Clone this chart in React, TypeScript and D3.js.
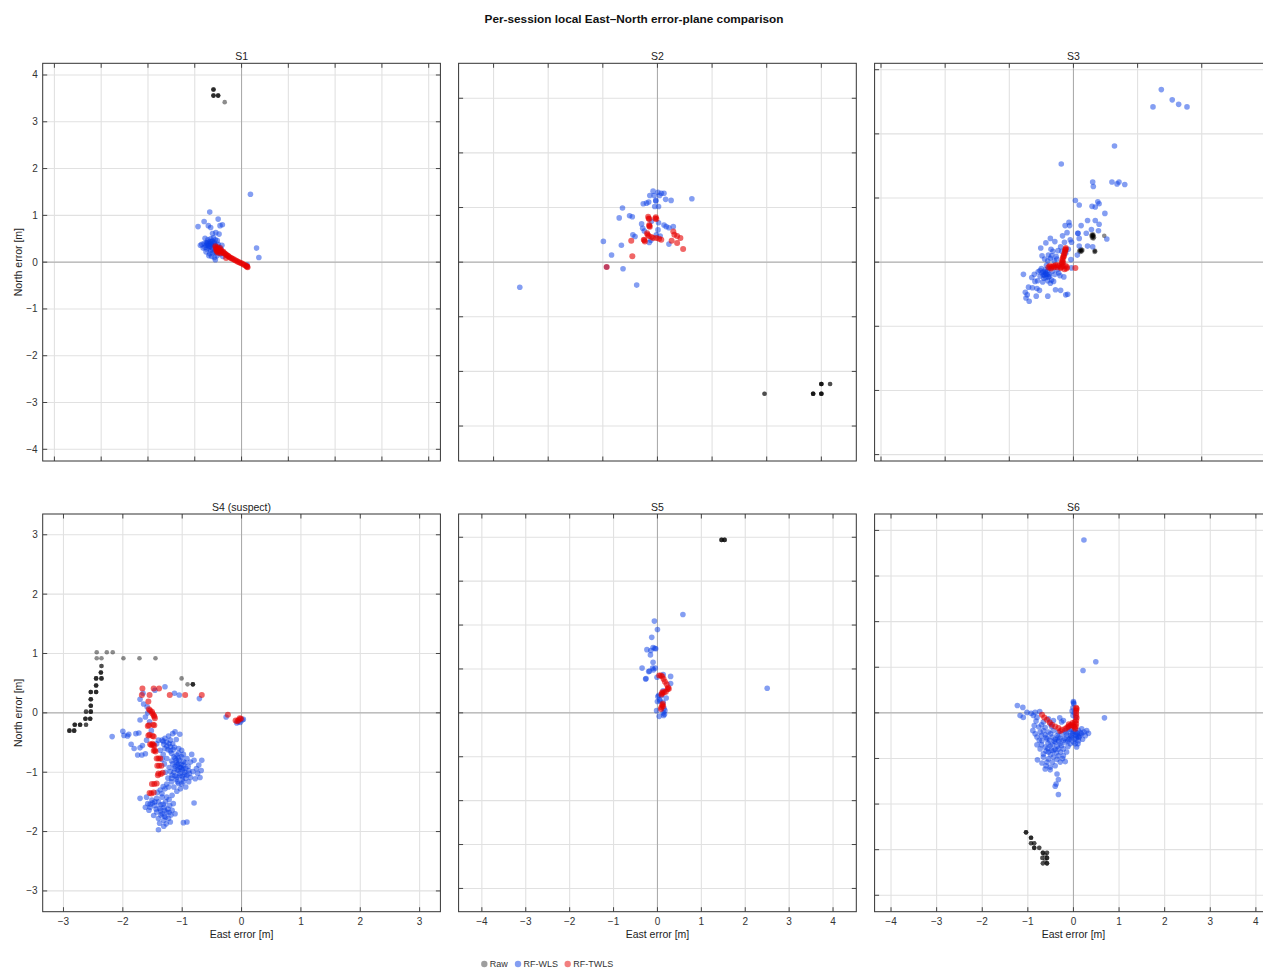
import React from 'react';
import * as d3 from 'd3';

type P = [number, number];

// ---------- data (East, North errors in metres) ----------
const sessionNames = ['S1', 'S2', 'S3', 'S4 (suspect)', 'S5', 'S6'];
const axisLimits = [4.25, 3.64, 3.1, 3.35, 4.53, 4.36];
const seriesNames = ['Raw', 'RF-WLS', 'RF-TWLS'];

const s1Raw: P[] = [
  [-0.60, 3.69], [-0.60, 3.69], [-0.60, 3.69], [-0.60, 3.56], [-0.60, 3.56], [-0.60, 3.56],
  [-0.50, 3.56], [-0.50, 3.56], [-0.50, 3.56], [-0.36, 3.42],
];
const s1Wls: P[] = [
  [0.19, 1.45], [-0.68, 1.07], [-0.93, 0.76], [-0.80, 0.87], [-0.71, 0.78], [-0.66, 0.74], [-0.50, 0.92],
  [-0.41, 0.80], [-0.46, 0.78], [-0.55, 0.63], [-0.48, 0.60], [-0.62, 0.61], [0.32, 0.30], [0.37, 0.10],
  [-0.78, 0.51], [-0.56, 0.05], [-0.85, 0.38], [-0.80, 0.40], [-0.75, 0.42], [-0.72, 0.36], [-0.68, 0.44],
  [-0.65, 0.38], [-0.62, 0.45], [-0.60, 0.35], [-0.58, 0.42], [-0.55, 0.30], [-0.52, 0.46], [-0.50, 0.38],
  [-0.48, 0.32], [-0.78, 0.32], [-0.74, 0.28], [-0.70, 0.30], [-0.66, 0.25], [-0.62, 0.28], [-0.58, 0.22],
  [-0.54, 0.20], [-0.50, 0.25], [-0.46, 0.18], [-0.68, 0.18], [-0.64, 0.12], [-0.72, 0.48], [-0.66, 0.50],
  [-0.60, 0.52], [-0.56, 0.48], [-0.82, 0.30], [-0.76, 0.22], [-0.70, 0.14], [-0.58, 0.10], [-0.52, 0.14],
  [-0.44, 0.28], [-0.42, 0.36], [-0.88, 0.36], [-0.62, 0.20], [-0.70, 0.38], [-0.64, 0.32], [-0.56, 0.36],
  [-0.74, 0.40], [-0.68, 0.34], [-0.60, 0.40], [0.12, -0.06], [-0.40, 0.12], [-0.72, 0.42], [-0.66, 0.40],
  [-0.70, 0.34], [-0.64, 0.44], [-0.76, 0.36],
];
const s1Twls: P[] = [
  [-0.56, 0.34], [-0.55, 0.30], [-0.53, 0.27], [-0.52, 0.32], [-0.50, 0.28], [-0.49, 0.24], [-0.47, 0.27],
  [-0.45, 0.23], [-0.43, 0.25], [-0.41, 0.21], [-0.39, 0.22], [-0.37, 0.19], [-0.35, 0.18], [-0.33, 0.16],
  [-0.31, 0.15], [-0.29, 0.13], [-0.27, 0.12], [-0.25, 0.10], [-0.22, 0.09], [-0.20, 0.07], [-0.17, 0.06],
  [-0.14, 0.04], [-0.11, 0.03], [-0.08, 0.01], [-0.05, 0.00], [-0.02, -0.02], [0.01, -0.03], [0.04, -0.05],
  [0.07, -0.06], [0.10, -0.08], [0.12, -0.10], [0.13, -0.11], [0.11, -0.09], [-0.33, 0.09], [-0.54, 0.25],
  [-0.50, 0.20], [-0.46, 0.30], [-0.52, 0.22], [-0.44, 0.19],
];

const s2Raw: P[] = [
  [1.96, -2.41], [1.96, -2.41], [2.85, -2.41], [2.85, -2.41], [2.85, -2.41], [2.85, -2.41],
  [3.00, -2.41], [3.00, -2.41], [3.00, -2.41], [3.00, -2.41], [3.00, -2.23], [3.00, -2.23],
  [3.00, -2.23], [3.00, -2.23], [3.16, -2.23], [3.16, -2.23],
];
const s2Wls: P[] = [
  [-0.08, 1.30], [0.01, 1.28], [0.07, 1.26], [0.12, 1.26], [-0.14, 1.22], [-0.06, 1.22], [0.04, 1.22],
  [-0.03, 1.12], [-0.03, 1.13], [0.15, 1.15], [0.25, 1.13], [0.63, 1.16], [-0.26, 1.07], [-0.20, 1.08],
  [-0.16, 1.10], [-0.05, 1.02], [0.02, 1.02], [-0.64, 0.99], [-0.70, 0.81], [-0.51, 0.85], [-0.46, 0.83],
  [-0.11, 0.75], [0.02, 0.72], [-0.29, 0.70], [-0.27, 0.62], [-0.24, 0.57], [0.12, 0.68], [0.16, 0.65],
  [0.21, 0.63], [0.29, 0.65], [0.01, 0.59], [-0.02, 0.50], [-0.45, 0.50], [-0.41, 0.47], [-0.15, 0.36],
  [0.21, 0.33], [-0.99, 0.38], [-0.66, 0.31], [-0.84, 0.13], [-0.63, -0.12], [-0.38, -0.42],
  [-2.52, -0.46], [-0.93, -0.09], [-0.12, 0.40], [0.05, 0.48],
];
const s2Twls: P[] = [
  [-0.17, 0.83], [-0.15, 0.79], [-0.03, 0.82], [-0.02, 0.79], [-0.15, 0.68], [-0.14, 0.65], [-0.19, 0.53],
  [-0.16, 0.48], [-0.11, 0.46], [-0.08, 0.44], [-0.25, 0.41], [-0.23, 0.38], [-0.02, 0.44], [0.03, 0.43],
  [0.07, 0.41], [0.29, 0.56], [0.31, 0.50], [0.36, 0.48], [0.42, 0.44], [0.26, 0.39], [0.36, 0.35],
  [0.47, 0.24], [-0.48, 0.39], [-0.46, 0.11], [-0.93, -0.09], [-0.16, 0.80], [-0.04, 0.80], [-0.15, 0.66],
  [-0.18, 0.50], [-0.24, 0.40],
];

const s3Raw: P[] = [
  [0.30, 0.40], [0.31, 0.43], [0.29, 0.38], [0.31, 0.41], [0.30, 0.42], [0.28, 0.41], [0.32, 0.39],
  [0.29, 0.43], [0.31, 0.37], [0.12, 0.18], [0.10, 0.19], [0.13, 0.17], [0.11, 0.16], [0.14, 0.19],
  [0.12, 0.20], [0.09, 0.17], [0.33, 0.18], [0.34, 0.17], [0.33, 0.16], [0.48, 0.41],
];
const s3Wls: P[] = [
  [1.37, 2.69], [1.54, 2.53], [1.64, 2.46], [1.77, 2.42], [1.24, 2.42], [0.64, 1.81], [-0.19, 1.53],
  [0.30, 1.25], [0.31, 1.18], [0.60, 1.25], [0.68, 1.22], [0.71, 1.25], [0.80, 1.21], [0.03, 0.96],
  [0.09, 0.89], [0.29, 0.87], [0.34, 0.86], [0.38, 0.94], [0.40, 0.91], [0.49, 0.76], [-0.07, 0.62],
  [-0.13, 0.57], [-0.06, 0.57], [0.12, 0.57], [0.22, 0.65], [0.34, 0.65], [0.40, 0.59], [0.39, 0.49],
  [0.28, 0.51], [-0.10, 0.46], [-0.17, 0.41], [-0.36, 0.37], [-0.29, 0.32], [-0.43, 0.30], [-0.51, 0.22],
  [-0.14, 0.31], [-0.05, 0.35], [-0.03, 0.31], [0.07, 0.45], [0.07, 0.45], [0.09, 0.37], [0.20, 0.45],
  [0.52, 0.36], [0.09, 0.25], [0.22, 0.25], [0.30, 0.24], [-0.24, 0.18], [-0.18, 0.17], [-0.32, 0.17],
  [-0.49, 0.10], [-0.39, 0.11], [-0.34, 0.10], [-0.27, 0.09], [0.06, 0.11], [-0.04, 0.04], [-0.03, -0.09],
  [-0.78, -0.19], [-0.61, -0.19], [-0.52, -0.13], [-0.49, -0.17], [-0.44, -0.16], [-0.41, -0.19],
  [-0.37, -0.22], [-0.34, -0.28], [-0.46, -0.25], [-0.56, -0.29], [-0.48, -0.31], [-0.23, -0.17],
  [-0.15, -0.23], [-0.21, -0.21], [-0.70, -0.39], [-0.64, -0.40], [-0.57, -0.41], [-0.53, -0.44],
  [-0.75, -0.47], [-0.72, -0.51], [-0.74, -0.56], [-0.69, -0.61], [-0.58, -0.53], [-0.40, -0.53],
  [-0.28, -0.43], [-0.20, -0.44], [-0.12, -0.51], [-0.09, -0.50], [-0.45, 0.05], [-0.40, 0.02],
  [-0.36, 0.06], [-0.30, 0.02], [-0.26, 0.05], [-0.42, -0.05], [-0.38, -0.10], [-0.33, -0.14],
  [-0.29, -0.19], [-0.25, -0.12], [-0.50, -0.10], [-0.55, -0.15], [-0.47, -0.20], [-0.43, -0.24],
  [-0.40, -0.29], [-0.36, -0.33], [-0.31, -0.30], [-0.52, -0.22], [-0.44, -0.12], [-0.38, -0.19],
  [-0.60, -0.30], [-0.65, -0.24], [-0.35, 0.20], [-0.20, 0.24], [-0.08, 0.20], [-0.12, 0.14],
  [-0.45, -0.20], [-0.41, -0.14], [-0.47, -0.15], [-0.39, -0.23], [-0.43, -0.18],
];
const s3Twls: P[] = [
  [-0.12, 0.22], [-0.12, 0.20], [-0.13, 0.17], [-0.14, 0.14], [-0.15, 0.11], [-0.16, 0.08], [-0.17, 0.05],
  [-0.17, 0.02], [-0.18, 0.00], [-0.18, -0.03], [-0.17, -0.06], [-0.19, -0.08], [-0.22, -0.06],
  [-0.25, -0.05], [-0.28, -0.05], [-0.31, -0.06], [-0.34, -0.07], [-0.37, -0.06], [-0.39, -0.08],
  [-0.35, -0.10], [-0.30, -0.08], [-0.12, -0.06], [-0.10, -0.08], [-0.11, -0.10], [-0.14, -0.11],
  [-0.20, -0.09], [-0.13, 0.19], [-0.15, 0.09], [-0.16, -0.01], [-0.26, -0.08], [0.03, -0.09],
];

const s4Raw: P[] = [
  [-2.44, 1.02], [-2.27, 1.02], [-2.17, 1.02], [-2.44, 0.92], [-2.36, 0.92], [-1.99, 0.92], [-1.72, 0.92],
  [-1.45, 0.92], [-1.01, 0.58], [-0.91, 0.48],
  [-0.82, 0.48], [-0.82, 0.48], [-0.82, 0.48], [-2.36, 0.79], [-2.36, 0.79], [-2.37, 0.68], [-2.37, 0.68],
  [-2.37, 0.68], [-2.45, 0.58], [-2.45, 0.58], [-2.45, 0.58], [-2.36, 0.58], [-2.36, 0.58], [-2.36, 0.58],
  [-2.45, 0.46], [-2.45, 0.46], [-2.45, 0.46], [-2.45, 0.35], [-2.45, 0.35], [-2.45, 0.35], [-2.54, 0.35],
  [-2.54, 0.35], [-2.54, 0.35], [-2.54, 0.23], [-2.54, 0.23], [-2.54, 0.23], [-2.54, 0.12], [-2.54, 0.12],
  [-2.54, 0.12], [-2.54, 0.02], [-2.54, 0.02], [-2.54, 0.02], [-2.62, 0.02], [-2.62, 0.02], [-2.55, -0.10],
  [-2.55, -0.10], [-2.55, -0.10], [-2.63, -0.10], [-2.63, -0.10], [-2.63, -0.10], [-2.62, -0.20],
  [-2.62, -0.20], [-2.72, -0.20], [-2.72, -0.20], [-2.72, -0.20], [-2.81, -0.20], [-2.81, -0.20],
  [-2.81, -0.20], [-2.82, -0.30], [-2.82, -0.30], [-2.82, -0.30], [-2.90, -0.30], [-2.90, -0.30],
  [-2.90, -0.30],
];
const s4Wls: P[] = [
  [-1.29, 0.44], [-1.13, 0.33], [-1.71, 0.23], [-1.66, 0.33], [-0.71, 0.24], [-0.26, -0.07], [-1.59, 0.10],
  [-1.62, -0.07], [-1.71, -0.12], [-1.55, -0.15], [-2.18, -0.40], [-2.00, -0.31], [-1.98, -0.38],
  [-1.92, -0.39], [-1.78, -0.35], [-1.73, -0.34], [-1.86, -0.53], [-1.81, -0.60], [-1.71, -0.59],
  [-1.67, -0.55], [-1.75, -0.71], [-1.68, -0.71], [-1.62, -0.69], [-1.12, -0.32], [-1.16, -0.35],
  [-1.23, -0.39], [-1.29, -0.43], [-1.34, -0.46], [-1.40, -0.46], [-1.43, -0.52], [-1.31, -0.53],
  [-1.26, -0.49], [-1.20, -0.46], [-1.37, -0.63], [-1.29, -0.60], [-1.20, -0.57], [-1.13, -0.58],
  [-1.06, -0.60], [-1.01, -0.63], [-1.18, -0.68], [-1.09, -0.71], [-1.01, -0.74], [-0.92, -0.77],
  [-1.26, -0.77], [-1.18, -0.81], [-1.10, -0.84], [-1.02, -0.87], [-0.95, -0.84], [-0.86, -0.83],
  [-0.80, -0.80], [-0.67, -0.80], [-0.72, -0.88], [-0.76, -0.94], [-0.68, -0.97], [-0.82, -0.99],
  [-0.89, -0.97], [-0.98, -0.94], [-1.06, -0.97], [-1.13, -0.94], [-1.20, -0.99], [-1.17, -1.05],
  [-1.09, -1.08], [-1.00, -1.07], [-0.92, -1.05], [-0.86, -1.09], [-0.78, -1.11], [-0.70, -1.09],
  [-0.89, -1.16], [-0.98, -1.16], [-1.06, -1.19], [-1.14, -1.25], [-1.23, -1.25], [-1.29, -1.28],
  [-1.37, -1.30], [-0.94, -1.25], [-1.03, -1.28], [-1.17, -1.39], [-1.26, -1.42], [-1.34, -1.42],
  [-1.43, -1.44], [-1.51, -1.47], [-1.58, -1.53], [-1.62, -1.59], [-1.71, -1.44], [-1.54, -1.59],
  [-1.46, -1.56], [-1.38, -1.61], [-1.30, -1.59], [-1.21, -1.56], [-1.15, -1.53], [-1.17, -1.64],
  [-1.26, -1.67], [-1.34, -1.70], [-1.43, -1.67], [-1.48, -1.73], [-1.40, -1.78], [-1.31, -1.81],
  [-1.23, -1.78], [-1.27, -1.87], [-1.31, -1.91], [-1.40, -1.97], [-1.20, -1.84], [-0.80, -1.52],
  [-0.92, -1.84], [-0.98, -1.85], [-1.12, -1.70], [-0.05, -0.15], [0.01, -0.12], [0.03, -0.11],
  [-0.08, -0.17], [-0.02, -0.16], [-1.65, 0.15], [-1.58, 0.00], [-1.52, -0.30], [-1.60, -0.46],
  [-1.90, -0.36], [-1.10, -0.45], [-1.04, -0.36], [-1.16, -0.52], [-1.24, -0.62], [-1.32, -0.70],
  [-1.12, -0.76], [-1.05, -0.80], [-0.98, -0.82], [-0.90, -0.90], [-1.04, -0.92], [-1.12, -0.90],
  [-0.96, -1.00], [-1.04, -1.02], [-1.10, -1.12], [-0.94, -1.10], [-1.01, -1.20], [-1.18, -1.16],
  [-1.24, -1.10], [-1.28, -1.00], [-1.30, -0.86], [-1.34, -0.78], [-1.06, -0.68], [-0.98, -0.70],
  [-1.15, -0.62], [-1.22, -0.92], [-1.08, -0.88], [-1.00, -0.96], [-0.88, -1.02], [-1.14, -1.00],
  [-1.36, -1.55], [-1.28, -1.50], [-1.22, -1.46], [-1.44, -1.62], [-1.36, -1.65], [-1.30, -1.74],
  [-1.38, -1.86], [-1.50, -1.52], [-1.56, -1.64], [-1.19, -1.72], [-1.34, -1.36], [-1.42, -1.34],
  [-1.60, -1.42], [-1.09, -1.32], [-0.84, -0.70], [-0.74, -1.02], [-1.46, 0.38], [-1.05, 0.30],
  [-1.10, -0.80], [-1.06, -0.86], [-1.02, -0.92], [-1.08, -0.96], [-1.04, -1.06], [-1.00, -1.12],
  [-1.12, -1.06], [-0.98, -0.88], [-0.94, -0.94], [-1.16, -0.86], [-1.14, -0.74], [-1.20, -0.64],
  [-1.26, -0.56], [-1.32, -0.48], [-1.22, -0.52], [-1.06, -0.76], [-0.96, -1.04], [-1.08, -1.16],
  [-1.18, -1.10], [-1.26, -1.20], [-1.32, -1.24], [-1.30, -1.64], [-1.24, -1.62], [-1.32, -1.54],
  [-1.40, -1.50], [-1.36, -1.72], [-1.28, -1.76], [-1.22, -1.68], [-1.46, -1.50], [-1.54, -1.54],
];
const s4Twls: P[] = [
  [-1.67, 0.41], [-1.68, 0.30], [-1.55, 0.30], [-1.48, 0.41], [-1.39, 0.41], [-1.21, 0.30], [-0.95, 0.30],
  [-0.67, 0.30], [-0.23, -0.03], [-0.10, -0.13], [-0.05, -0.12], [-0.01, -0.10], [-0.03, -0.09],
  [-0.07, -0.14], [-1.57, 0.19], [-1.56, 0.06], [-1.54, 0.04], [-1.51, 0.02], [-1.50, -0.01],
  [-1.48, -0.04], [-1.46, -0.09], [-1.47, -0.06], [-1.58, -0.22], [-1.56, -0.21], [-1.47, -0.21],
  [-1.49, -0.20], [-1.57, -0.38], [-1.55, -0.37], [-1.50, -0.39], [-1.48, -0.40], [-1.54, -0.53],
  [-1.52, -0.54], [-1.49, -0.54], [-1.47, -0.55], [-1.48, -0.64], [-1.45, -0.65], [-1.43, -0.77],
  [-1.40, -0.77], [-1.37, -0.77], [-1.42, -0.89], [-1.39, -0.89], [-1.35, -0.89], [-1.41, -1.05],
  [-1.40, -1.02], [-1.33, -1.01], [-1.36, -1.03], [-1.51, -1.20], [-1.47, -1.20], [-1.43, -1.19],
  [-1.55, -1.35], [-1.52, -1.36], [-1.48, -1.34], [-1.50, -0.52], [-1.46, -0.63],
];

const s5Raw: P[] = [
  [1.46, 3.94], [1.46, 3.94], [1.46, 3.94], [1.53, 3.94], [1.53, 3.94], [1.53, 3.94],
];
const s5Wls: P[] = [
  [0.58, 2.24], [-0.07, 2.09], [0.00, 1.90], [-0.13, 1.72], [-0.24, 1.44], [-0.15, 1.42], [-0.10, 1.49],
  [-0.04, 1.46], [-0.16, 1.32], [-0.10, 1.15], [-0.35, 1.02], [-0.11, 1.02], [-0.05, 1.02], [-0.20, 0.94],
  [-0.18, 0.95], [-0.09, 0.98], [-0.27, 0.77], [-0.26, 0.78], [-0.01, 0.81], [0.13, 0.87], [0.30, 0.83],
  [0.30, 0.67], [2.50, 0.56], [0.13, 0.50], [0.20, 0.34], [0.01, 0.37], [0.00, 0.26], [0.05, 0.30],
  [0.13, 0.24], [-0.02, 0.05], [0.17, 0.05], [0.04, -0.08], [0.14, -0.06], [0.13, 0.00], [0.09, 0.39],
  [0.03, 0.40], [0.06, 0.27], [0.15, 0.10], [0.16, -0.03], [-0.06, 1.47],
];
const s5Twls: P[] = [
  [0.04, 0.85], [0.08, 0.85], [0.11, 0.83], [0.14, 0.77], [0.17, 0.71], [0.21, 0.65], [0.24, 0.58],
  [0.26, 0.55], [0.23, 0.54], [0.19, 0.48], [0.15, 0.47], [0.11, 0.47], [0.09, 0.42], [0.11, 0.44],
  [0.11, 0.18], [0.09, 0.13], [0.13, 0.15], [0.08, 0.09], [0.12, 0.21],
];

const s6Raw: P[] = [
  [-1.04, -2.62], [-1.04, -2.62], [-0.93, -2.74], [-0.93, -2.74], [-0.86, -2.86], [-0.86, -2.86],
  [-0.93, -2.86], [-0.93, -2.86], [-0.86, -2.96], [-0.86, -2.96], [-0.75, -2.96], [-0.75, -2.96],
  [-0.67, -3.07], [-0.67, -3.07], [-0.58, -3.07], [-0.58, -3.07], [-0.68, -3.18], [-0.68, -3.18],
  [-0.58, -3.18], [-0.58, -3.18], [-0.67, -3.30], [-0.67, -3.30], [-0.58, -3.30], [-0.58, -3.30],
  [-0.62, -3.24], [-0.62, -3.12], [-1.04, -2.62], [-0.93, -2.74], [-0.86, -2.96], [-0.67, -3.07],
  [-0.58, -3.18], [-0.58, -3.30],
];
const s6Wls: P[] = [
  [0.23, 3.79], [0.49, 1.12], [0.21, 0.93], [0.68, -0.11], [-1.23, 0.16], [-1.11, 0.12], [-1.17, -0.06],
  [-1.10, -0.10], [-1.02, 0.01], [-0.93, -0.01], [-0.84, 0.01], [-0.74, 0.03], [-0.88, -0.06],
  [-0.80, -0.10], [-0.82, -0.18], [-0.86, -0.28], [-0.76, -0.31], [-0.89, -0.39], [-0.84, -0.46],
  [-0.73, -0.42], [-0.66, -0.39], [-0.55, -0.13], [-0.30, -0.11], [-0.22, -0.17], [0.00, 0.25],
  [0.01, 0.20], [-0.01, 0.11], [-0.03, 0.04], [-0.01, -0.06], [0.00, 0.22], [-0.80, -0.53], [-0.69, -0.61],
  [-0.58, -0.57], [-0.47, -0.53], [-0.36, -0.50], [-0.26, -0.46], [-0.15, -0.50], [-0.04, -0.53],
  [0.07, -0.50], [0.18, -0.46], [0.26, -0.50], [0.33, -0.45], [0.11, -0.61], [0.04, -0.68], [0.07, -0.75],
  [-0.07, -0.68], [-0.18, -0.64], [-0.29, -0.68], [-0.40, -0.64], [-0.51, -0.72], [-0.62, -0.75],
  [-0.73, -0.79], [-0.80, -0.70], [-0.66, -0.90], [-0.55, -0.86], [-0.44, -0.83], [-0.33, -0.79],
  [-0.22, -0.79], [-0.15, -0.86], [-0.22, -0.94], [-0.33, -0.94], [-0.44, -0.97], [-0.55, -1.01],
  [-0.66, -0.97], [-0.79, -1.03], [-0.69, -1.10], [-0.60, -1.16], [-0.51, -1.19], [-0.40, -1.16],
  [-0.29, -1.08], [-0.18, -1.07], [-0.62, -1.23], [-0.51, -1.25], [-0.36, -1.34], [-0.33, -1.46],
  [-0.38, -1.56], [-0.40, -1.61], [-0.33, -1.79], [-0.66, -0.20], [-0.51, -0.24], [-0.44, -0.17],
  [-0.26, -0.20], [-0.11, -0.32], [0.11, -0.39], [0.18, -0.35], [0.04, -0.42], [-0.07, -0.42],
  [-0.18, -0.39], [-0.33, -0.42], [-0.44, -0.39], [-0.55, -0.42], [0.29, -0.39], [0.23, -0.42],
  [-0.70, -0.50], [-0.62, -0.48], [-0.50, -0.46], [-0.40, -0.58], [-0.30, -0.56], [-0.20, -0.56],
  [-0.10, -0.58], [0.02, -0.58], [0.12, -0.54], [0.20, -0.58], [-0.02, -0.46], [0.08, -0.44],
  [-0.56, -0.66], [-0.46, -0.70], [-0.36, -0.74], [-0.26, -0.72], [-0.12, -0.74], [-0.60, -0.84],
  [-0.50, -0.92], [-0.38, -0.88], [-0.28, -0.86], [-0.70, -0.70], [-0.75, -0.60], [-0.62, -0.32],
  [-0.70, -0.26], [-0.48, -0.30], [0.02, 0.00], [0.05, -0.10], [-0.06, -0.36], [0.14, -0.50],
  [-0.46, -1.08], [-0.58, -1.08], [-0.36, -1.02], [-0.24, -1.00], [0.00, -0.64], [0.10, -0.68],
  [-0.52, -0.60], [-0.42, -0.62], [-0.32, -0.62], [-0.22, -0.60], [-0.12, -0.62], [0.06, -0.56],
  [-0.06, -0.50], [-0.16, -0.44], [-0.56, -0.78], [-0.48, -0.82], [-0.40, -0.80], [-0.60, -0.54],
  [0.00, -0.40], [0.04, -0.48], [-0.08, -0.56], [0.16, -0.44], [0.10, -0.52], [-0.34, -0.54],
];
const s6Twls: P[] = [
  [-0.69, -0.04], [-0.64, -0.10], [-0.58, -0.15], [-0.52, -0.21], [-0.47, -0.26], [-0.40, -0.30],
  [-0.33, -0.33], [-0.29, -0.40], [-0.25, -0.37], [-0.18, -0.35], [-0.14, -0.32], [-0.11, -0.30],
  [-0.07, -0.28], [-0.04, -0.26], [0.00, -0.29], [0.02, -0.31], [0.04, -0.35], [0.05, -0.30],
  [0.06, -0.24], [0.06, -0.17], [0.07, -0.11], [0.06, -0.06], [0.06, 0.00], [0.06, 0.05], [0.07, 0.09],
  [0.06, 0.11], [-0.10, -0.25], [-0.02, -0.22], [0.03, -0.20],
];

const rawSets = [s1Raw, s2Raw, s3Raw, s4Raw, s5Raw, s6Raw];
const wlsSets = [s1Wls, s2Wls, s3Wls, s4Wls, s5Wls, s6Wls];
const twlsSets = [s1Twls, s2Twls, s3Twls, s4Twls, s5Twls, s6Twls];

// ---------- styling / layout ----------
const FONT = '"Liberation Sans", Arial, Helvetica, sans-serif';
const COL_LEFT = [42.7, 458.6, 874.6];
const ROW_TOP = [63.3, 514];
const SIZE = 397.7;
const seriesStyle = [
  { fill: '#000000', opacity: 0.45, r: 2.3 },
  { fill: '#0a3ee6', opacity: 0.5, r: 2.8 },
  { fill: '#e60000', opacity: 0.6, r: 3.0 },
];
const fmt = d3.format('d');

function Panel({ i }: { i: number }) {
  const lim = axisLimits[i];
  const col = i % 3;
  const row = Math.floor(i / 3);
  const left = COL_LEFT[col];
  const top = ROW_TOP[row];
  const x = d3.scaleLinear().domain([-lim, lim]).range([left, left + SIZE]);
  const y = d3.scaleLinear().domain([-lim, lim]).range([top + SIZE, top]);
  const ticks = d3.range(Math.ceil(-lim), Math.floor(lim) + 1);
  const clipId = `clip-${i}`;
  const sets = [rawSets[i], wlsSets[i], twlsSets[i]];
  const tl = 4.5;
  return (
    <g>
      <defs>
        <clipPath id={clipId}>
          <rect x={left} y={top} width={SIZE} height={SIZE} />
        </clipPath>
      </defs>
      <rect x={left} y={top} width={SIZE} height={SIZE} fill="#fff" />
      <g clipPath={`url(#${clipId})`}>
        {ticks.map((t) => (
          <g key={`g${t}`}>
            <line x1={x(t)} x2={x(t)} y1={top} y2={top + SIZE} stroke="#e1e1e1" strokeWidth={1.1} />
            <line x1={left} x2={left + SIZE} y1={y(t)} y2={y(t)} stroke="#e1e1e1" strokeWidth={1.1} />
          </g>
        ))}
        <line x1={x(0)} x2={x(0)} y1={top} y2={top + SIZE} stroke="#a8a8a8" strokeWidth={1} />
        <line x1={left} x2={left + SIZE} y1={y(0)} y2={y(0)} stroke="#a8a8a8" strokeWidth={1} />
        {sets.map((pts, s) => (
          <g key={`s${s}`} fill={seriesStyle[s].fill} fillOpacity={seriesStyle[s].opacity}>
            {pts.map((p, k) => (
              <circle key={k} cx={x(p[0])} cy={y(p[1])} r={seriesStyle[s].r} />
            ))}
          </g>
        ))}
        {ticks.map((t) => (
          <g key={`t${t}`} stroke="#444" strokeWidth={1}>
            <line x1={x(t)} x2={x(t)} y1={top + SIZE} y2={top + SIZE - tl} />
            <line x1={x(t)} x2={x(t)} y1={top} y2={top + tl} />
            <line x1={left} x2={left + tl} y1={y(t)} y2={y(t)} />
            <line x1={left + SIZE} x2={left + SIZE - tl} y1={y(t)} y2={y(t)} />
          </g>
        ))}
      </g>
      <rect x={left} y={top} width={SIZE} height={SIZE} fill="none" stroke="#333" strokeWidth={1} />
      <text x={left + SIZE / 2} y={top - 3.5} textAnchor="middle" fontSize={10.5} fill="#222" fontFamily={FONT}>
        {sessionNames[i]}
      </text>
      {col === 0 &&
        ticks.map((t) => (
          <text key={`yl${t}`} x={left - 5} y={y(t) + 3.5} textAnchor="end" fontSize={10} fill="#333" fontFamily={FONT}>
            {fmt(t)}
          </text>
        ))}
      {row === 1 &&
        ticks.map((t) => (
          <text key={`xl${t}`} x={x(t)} y={top + SIZE + 13} textAnchor="middle" fontSize={10} fill="#333" fontFamily={FONT}>
            {fmt(t)}
          </text>
        ))}
      {col === 0 && (
        <text
          transform={`translate(${left - 21},${top + SIZE / 2}) rotate(-90)`}
          textAnchor="middle"
          fontSize={10.5}
          fill="#222"
          fontFamily={FONT}
        >
          North error [m]
        </text>
      )}
      {row === 1 && (
        <text x={left + SIZE / 2} y={top + SIZE + 26} textAnchor="middle" fontSize={10.5} fill="#222" fontFamily={FONT}>
          East error [m]
        </text>
      )}
    </g>
  );
}

const LEGEND_X = [484.3, 518, 567.7];

export default function App() {
  return (
    <svg
      width={1263}
      height={970}
      style={{ position: 'absolute', left: 0, top: 0, background: '#fff' }}
    >
      <rect x={0} y={0} width={1263} height={970} fill="#fff" />
      <text x={634} y={23} textAnchor="middle" fontSize={11.8} fontWeight="bold" fill="#111" fontFamily={FONT}>
        Per-session local East–North error-plane comparison
      </text>
      {sessionNames.map((_, i) => (
        <Panel key={i} i={i} />
      ))}
      <g>
        {seriesNames.map((name, s) => (
          <g key={name}>
            <circle cx={LEGEND_X[s]} cy={964} r={3.2} fill={seriesStyle[s].fill} fillOpacity={s === 0 ? 0.38 : 0.5} />
            <text x={LEGEND_X[s] + 5.5} y={967.3} fontSize={9} fill="#333" fontFamily={FONT}>
              {name}
            </text>
          </g>
        ))}
      </g>
    </svg>
  );
}
